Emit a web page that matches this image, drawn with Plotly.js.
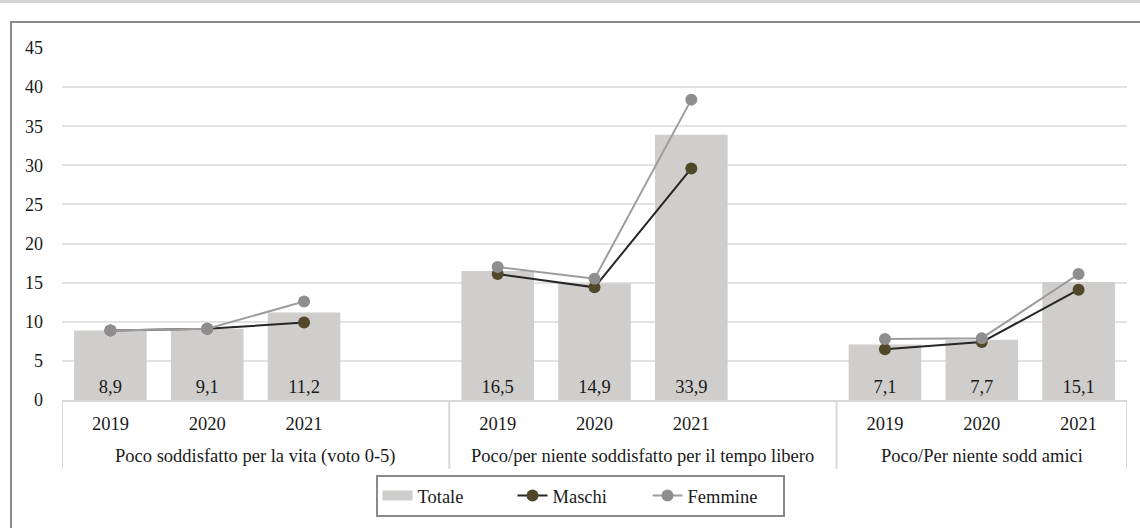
<!DOCTYPE html>
<html>
<head>
<meta charset="utf-8">
<script src="https://cdn.plot.ly/plotly-3.0.1.min.js"></script>
<style>
html,body{margin:0;padding:0;background:#fff;}
#chart{width:1140px;height:528px;}
</style>
</head>
<body>
<div id="chart"></div>
<script>
const groups = ['Poco soddisfatto per la vita (voto 0-5)', 'Poco/per niente soddisfatto per il tempo libero', 'Poco/Per niente sodd amici'];
const years = ['2019', '2020', '2021'];
const totale = [8.9, 9.1, 11.2, 16.5, 14.9, 33.9, 7.1, 7.7, 15.1];
const maschi = [8.9, 9.1, 9.9, 16.1, 14.4, 29.6, 6.5, 7.4, 14.1];
const femmine = [8.9, 9.1, 12.6, 17.0, 15.5, 38.4, 7.8, 7.9, 16.1];
const yTicks = [0, 5, 10, 15, 20, 25, 30, 35, 40, 45];

// category slots: three years per group, plus a blank spacer slot after groups 1 and 2
const cats = [], catText = [], groupStart = [], groupEnd = [];
groups.forEach((g, gi) => {
  groupStart.push(cats.length - 0.5);
  years.forEach(y => { cats.push(y + '_' + gi); catText.push(y); });
  if (gi < groups.length - 1) { cats.push('spacer_' + gi); catText.push(''); }
  groupEnd.push(cats.length - 0.5);
});
function expand(vals) {
  const out = [];
  groups.forEach((g, gi) => {
    years.forEach((y, yi) => out.push(vals[gi * years.length + yi]));
    if (gi < groups.length - 1) out.push(null);
  });
  return out;
}
const serif = 'Times New Roman, Liberation Serif, DejaVu Serif, serif';
const txtColor = '#1a1a1a';
const dividerColor = '#d9d9d9';
const fs = 18.5;

const traces = [
  {
    type: 'scatter', mode: 'lines', name: 'Totale', x: [null], y: [null],
    line: {color: '#cfcecc', width: 11}, hoverinfo: 'skip', showlegend: true
  },
  {
    type: 'bar', name: 'Totale', x: cats, y: expand(totale), showlegend: false,
    marker: {color: '#cfcecc'}, width: 0.75,
    texttemplate: '%{y:.1f}', textposition: 'inside', insidetextanchor: 'start',
    insidetextfont: {family: serif, size: fs, color: txtColor},
    hoverinfo: 'skip'
  },
  {
    type: 'scatter', mode: 'lines+markers', name: 'Maschi', x: cats, y: expand(maschi),
    line: {color: '#262626', width: 2}, marker: {color: '#514829', size: 12},
    connectgaps: false
  },
  {
    type: 'scatter', mode: 'lines+markers', name: 'Femmine', x: cats, y: expand(femmine),
    line: {color: '#9d9d9d', width: 2}, marker: {color: '#8f8d8f', size: 12},
    connectgaps: false
  }
];

const shapes = [
  {type: 'rect', xref: 'paper', yref: 'paper', x0: -0.06, x1: 1.02,
   y0: 1 + (48 - 3) / 352, y1: 1 + 48 / 352, fillcolor: '#d4d4d4', line: {width: 0}, layer: 'below'},
  {type: 'rect', xref: 'paper', yref: 'paper', x0: (11 - 62) / 1065, x1: (1150 - 62) / 1065,
   y0: (400 - 540) / 352, y1: 1 + (48 - 22) / 352, fillcolor: 'rgba(0,0,0,0)',
   line: {color: '#8a8a8a', width: 2}, layer: 'below'}
];
const dividerX = [groupStart[0]].concat(groupEnd);
dividerX.forEach(xv => shapes.push({
  type: 'line', xref: 'x', yref: 'paper', x0: xv, x1: xv, y0: 0, y1: (400 - 469) / 352,
  line: {color: dividerColor, width: 2}, layer: 'below'
}));

const annotations = groups.map((g, gi) => ({
  xref: 'x', yref: 'paper', x: (groupStart[gi] + groupEnd[gi]) / 2, y: (400 - 456) / 352,
  text: g, showarrow: false, xanchor: 'center', yanchor: 'middle',
  font: {family: serif, size: fs, color: txtColor}
}));

const layout = {
  width: 1140, height: 528,
  margin: {l: 62, r: 13, t: 48, b: 128, autoexpand: false},
  paper_bgcolor: '#ffffff', plot_bgcolor: '#ffffff',
  separators: ',.',
  font: {family: serif, size: fs, color: txtColor},
  showlegend: true,
  xaxis: {
    type: 'category', range: [-0.5, cats.length - 0.5],
    tickvals: cats, ticktext: catText,
    showgrid: false, zeroline: false,
    showline: true, linecolor: dividerColor, linewidth: 2,
    ticks: '', ticklabelstandoff: 6, automargin: false,
    tickfont: {family: serif, size: fs, color: txtColor}
  },
  yaxis: {
    range: [0, 45], tickvals: yTicks, ticktext: yTicks.map(String),
    showgrid: true, gridcolor: '#e3e3e3', gridwidth: 2,
    zeroline: false, showline: false, ticks: '', automargin: false,
    ticklabelstandoff: 18,
    tickfont: {family: serif, size: 18, color: txtColor}
  },
  legend: {
    orientation: 'h', x: (580 - 62) / 1065, xanchor: 'center', y: (400 - 480) / 352, yanchor: 'top',
    bordercolor: '#8a8a8a', borderwidth: 2, bgcolor: '#ffffff',
    font: {family: serif, size: fs, color: txtColor},
    entrywidth: 90, entrywidthmode: 'pixels', traceorder: 'normal'
  },
  shapes: shapes,
  annotations: annotations
};
layout.legend.y = (400 - 475) / 352;

Plotly.newPlot('chart', traces, layout, {displayModeBar: false, staticPlot: true});
</script>
</body>
</html>
